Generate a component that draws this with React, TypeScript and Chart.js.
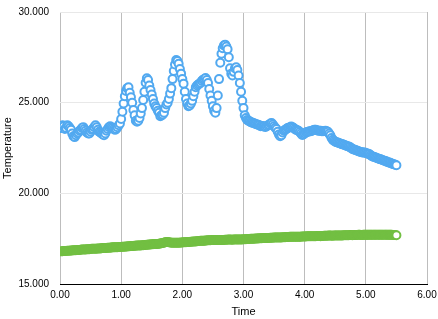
import React, { useEffect, useRef } from "react";
import { Chart, registerables } from "chart.js";

Chart.register(...registerables);

// Readings at 0.02, 0.06, ... 5.50
const times = [
  0.02, 0.06, 0.10, 0.14, 0.18, 0.22, 0.26, 0.30, 0.34, 0.38,
  0.42, 0.46, 0.50, 0.54, 0.58, 0.62, 0.66, 0.70, 0.74, 0.78,
  0.82, 0.86, 0.90, 0.94, 0.98, 1.02, 1.06, 1.10, 1.14, 1.18,
  1.22, 1.26, 1.30, 1.34, 1.38, 1.42, 1.46, 1.50, 1.54, 1.58,
  1.62, 1.66, 1.70, 1.74, 1.78, 1.82, 1.86, 1.90, 1.94, 1.98,
  2.02, 2.06, 2.10, 2.14, 2.18, 2.22, 2.26, 2.30, 2.34, 2.38,
  2.42, 2.46, 2.50, 2.54, 2.58, 2.62, 2.66, 2.70, 2.74, 2.78,
  2.82, 2.86, 2.90, 2.94, 2.98, 3.02, 3.06, 3.10, 3.14, 3.18,
  3.22, 3.26, 3.30, 3.34, 3.38, 3.42, 3.46, 3.50, 3.54, 3.58,
  3.62, 3.66, 3.70, 3.74, 3.78, 3.82, 3.86, 3.90, 3.94, 3.98,
  4.02, 4.06, 4.10, 4.14, 4.18, 4.22, 4.26, 4.30, 4.34, 4.38,
  4.42, 4.46, 4.50, 4.54, 4.58, 4.62, 4.66, 4.70, 4.74, 4.78,
  4.82, 4.86, 4.90, 4.94, 4.98, 5.02, 5.06, 5.10, 5.14, 5.18,
  5.22, 5.26, 5.30, 5.34, 5.38, 5.42, 5.46, 5.50,
];

const blueTemps = [
  23.6, 23.7, 23.6, 23.7, 23.5, 23.15, 23.2, 23.35, 23.5, 23.65,
  23.45, 23.3, 23.4, 23.55, 23.75, 23.5, 23.35, 23.25, 23.3, 23.55,
  23.7, 23.6, 23.5, 23.65, 23.85, 24.5, 25.35, 25.8, 25.55, 25.0,
  24.3, 23.95, 24.15, 24.7, 25.6, 26.35, 25.95, 25.45, 24.95, 24.7,
  24.45, 24.3, 24.45, 24.9, 25.2, 25.8, 26.75, 27.35, 27.15, 26.6,
  26.05, 25.2, 24.8, 24.95, 25.35, 25.85, 26.0, 26.1, 26.27, 26.36,
  26.08, 25.4, 24.8, 24.45, 25.4, 27.2, 28.0, 28.2, 27.95, 26.9,
  26.5, 26.9, 26.8, 26.08, 25.1, 24.3, 24.05, 23.97, 23.9, 23.85,
  23.8, 23.75, 23.72, 23.68, 23.7, 23.78, 23.88, 23.7, 23.55, 23.25,
  23.2, 23.45, 23.55, 23.62, 23.68, 23.6, 23.5, 23.45, 23.3, 23.25,
  23.35, 23.4, 23.42, 23.48, 23.5, 23.45, 23.45, 23.42, 23.45, 23.4,
  23.2, 22.95, 22.85, 22.8, 22.75, 22.7, 22.65, 22.6, 22.55, 22.45,
  22.4, 22.35, 22.3, 22.25, 22.25, 22.2, 22.15, 22.05, 22.0, 21.95,
  21.9, 21.85, 21.8, 21.75, 21.7, 21.65, 21.6, 21.55,
];

const greenTemps = [
  16.80, 16.82, 16.82, 16.84, 16.85, 16.86, 16.86, 16.88, 16.89, 16.90,
  16.90, 16.92, 16.93, 16.94, 16.95, 16.96, 16.96, 16.98, 16.99, 17.00,
  17.00, 17.02, 17.03, 17.03, 17.04, 17.05, 17.06, 17.07, 17.08, 17.10,
  17.11, 17.12, 17.12, 17.14, 17.15, 17.16, 17.18, 17.19, 17.20, 17.21,
  17.22, 17.25, 17.28, 17.31, 17.30, 17.28, 17.27, 17.27, 17.28, 17.29,
  17.30, 17.30, 17.32, 17.33, 17.34, 17.35, 17.37, 17.38, 17.38, 17.40,
  17.41, 17.41, 17.42, 17.42, 17.43, 17.42, 17.43, 17.44, 17.44, 17.45,
  17.44, 17.45, 17.46, 17.45, 17.46, 17.47, 17.48, 17.48, 17.50, 17.50,
  17.51, 17.52, 17.52, 17.53, 17.54, 17.54, 17.55, 17.56, 17.56, 17.57,
  17.57, 17.58, 17.59, 17.59, 17.60, 17.60, 17.61, 17.60, 17.61, 17.62,
  17.62, 17.63, 17.63, 17.64, 17.64, 17.65, 17.64, 17.65, 17.66, 17.66,
  17.67, 17.66, 17.67, 17.68, 17.68, 17.68, 17.69, 17.69, 17.70, 17.69,
  17.70, 17.70, 17.71, 17.70, 17.71, 17.71, 17.71, 17.72, 17.71, 17.72,
  17.72, 17.71, 17.72, 17.72, 17.71, 17.71, 17.70, 17.69,
];

// In-between readings at 0.04, 0.08, ... 5.48
const timesMid = [
  0.04, 0.08, 0.12, 0.16, 0.20, 0.24, 0.28, 0.32, 0.36, 0.40,
  0.44, 0.48, 0.52, 0.56, 0.60, 0.64, 0.68, 0.72, 0.76, 0.80,
  0.84, 0.88, 0.92, 0.96, 1.00, 1.04, 1.08, 1.12, 1.16, 1.20,
  1.24, 1.28, 1.32, 1.36, 1.40, 1.44, 1.48, 1.52, 1.56, 1.60,
  1.64, 1.68, 1.72, 1.76, 1.80, 1.84, 1.88, 1.92, 1.96, 2.00,
  2.04, 2.08, 2.12, 2.16, 2.20, 2.24, 2.28, 2.32, 2.36, 2.40,
  2.44, 2.48, 2.52, 2.56, 2.60, 2.64, 2.68, 2.72, 2.76, 2.80,
  2.84, 2.88, 2.92, 2.96, 3.00, 3.04, 3.08, 3.12, 3.16, 3.20,
  3.24, 3.28, 3.32, 3.36, 3.40, 3.44, 3.48, 3.52, 3.56, 3.60,
  3.64, 3.68, 3.72, 3.76, 3.80, 3.84, 3.88, 3.92, 3.96, 4.00,
  4.04, 4.08, 4.12, 4.16, 4.20, 4.24, 4.28, 4.32, 4.36, 4.40,
  4.44, 4.48, 4.52, 4.56, 4.60, 4.64, 4.68, 4.72, 4.76, 4.80,
  4.84, 4.88, 4.92, 4.96, 5.00, 5.04, 5.08, 5.12, 5.16, 5.20,
  5.24, 5.28, 5.32, 5.36, 5.40, 5.44, 5.48,
];

const blueTempsMid = [
  23.75, 23.55, 23.75, 23.6, 23.3, 23.1, 23.3, 23.45, 23.6, 23.55,
  23.35, 23.3, 23.5, 23.65, 23.65, 23.4, 23.3, 23.2, 23.45, 23.65,
  23.65, 23.55, 23.55, 23.75, 24.1, 24.95, 25.65, 25.85, 25.3, 24.6,
  24.0, 24.0, 24.4, 25.15, 26.1, 26.25, 25.7, 25.2, 24.8, 24.55,
  24.25, 24.35, 24.7, 25.0, 25.5, 26.3, 27.1, 27.3, 26.85, 26.3,
  25.6, 24.95, 24.85, 25.1, 25.6, 25.95, 26.05, 26.2, 26.3, 26.25,
  25.75, 25.1, 24.55, 24.7, 26.3, 27.7, 28.15, 28.1, 27.5, 26.6,
  26.7, 26.95, 26.5, 25.6, 24.7, 24.15, 24.0, 23.92, 23.88, 23.82,
  23.78, 23.7, 23.7, 23.66, 23.75, 23.85, 23.8, 23.62, 23.4, 23.15,
  23.35, 23.5, 23.6, 23.65, 23.65, 23.55, 23.48, 23.38, 23.22, 23.3,
  23.38, 23.42, 23.45, 23.5, 23.48, 23.45, 23.43, 23.44, 23.42, 23.3,
  23.05, 22.9, 22.82, 22.78, 22.72, 22.68, 22.62, 22.58, 22.5, 22.42,
  22.38, 22.32, 22.28, 22.25, 22.22, 22.18, 22.1, 22.02, 21.98, 21.92,
  21.88, 21.82, 21.78, 21.72, 21.68, 21.62, 21.58,
];

const greenTempsMid = [
  16.81, 16.82, 16.83, 16.84, 16.85, 16.86, 16.87, 16.88, 16.90, 16.90,
  16.91, 16.92, 16.94, 16.94, 16.95, 16.96, 16.97, 16.98, 16.99, 17.00,
  17.01, 17.02, 17.03, 17.04, 17.04, 17.05, 17.07, 17.08, 17.09, 17.10,
  17.11, 17.12, 17.13, 17.14, 17.15, 17.17, 17.18, 17.19, 17.20, 17.21,
  17.23, 17.26, 17.30, 17.31, 17.29, 17.27, 17.27, 17.28, 17.28, 17.29,
  17.30, 17.31, 17.32, 17.33, 17.35, 17.36, 17.37, 17.38, 17.39, 17.40,
  17.41, 17.42, 17.42, 17.43, 17.42, 17.43, 17.43, 17.44, 17.45, 17.44,
  17.45, 17.45, 17.46, 17.46, 17.47, 17.47, 17.48, 17.49, 17.50, 17.51,
  17.51, 17.52, 17.53, 17.53, 17.54, 17.55, 17.55, 17.56, 17.57, 17.57,
  17.58, 17.58, 17.59, 17.60, 17.60, 17.61, 17.60, 17.61, 17.62, 17.62,
  17.63, 17.63, 17.64, 17.64, 17.65, 17.65, 17.65, 17.66, 17.66, 17.67,
  17.66, 17.67, 17.68, 17.68, 17.68, 17.69, 17.69, 17.69, 17.70, 17.70,
  17.70, 17.71, 17.70, 17.71, 17.71, 17.71, 17.72, 17.71, 17.72, 17.72,
  17.71, 17.72, 17.72, 17.71, 17.71, 17.70, 17.70,
];

const xTickLabels = ["0.00", "1.00", "2.00", "3.00", "4.00", "5.00", "6.00"];
const yTickLabels = ["15.000", "20.000", "25.000", "30.000"];

const BLUE = "#52a9f0";
const GREEN = "#72bf42";
const FONT = "'Liberation Sans', Arial, Helvetica, sans-serif";

function merge(a: number[], av: number[], b: number[], bv: number[]) {
  const pts = [
    ...a.map((t, i) => ({ x: t, y: av[i] })),
    ...b.map((t, i) => ({ x: t, y: bv[i] })),
  ];
  pts.sort((p, q) => p.x - q.x);
  return pts;
}

export default function App() {
  const ref = useRef<HTMLCanvasElement | null>(null);

  useEffect(() => {
    if (!ref.current) return;
    const blueData = merge(times, blueTemps, timesMid, blueTempsMid);
    const greenData = merge(times, greenTemps, timesMid, greenTempsMid);
    const last = greenData.length - 1;
    const chart = new Chart(ref.current, {
      type: "scatter",
      data: {
        datasets: [
          {
            label: "Series 1",
            data: blueData,
            borderColor: BLUE,
            backgroundColor: "#ffffff",
            pointRadius: 4,
            pointBorderWidth: 2,
            showLine: false,
          },
          {
            label: "Series 2",
            data: greenData,
            borderColor: GREEN,
            pointBackgroundColor: (ctx: any) =>
              ctx.dataIndex === last ? "#ffffff" : GREEN,
            pointRadius: 4,
            pointBorderWidth: 2,
            showLine: false,
          },
        ],
      },
      options: {
        animation: false,
        responsive: true,
        maintainAspectRatio: false,
        layout: { padding: { left: 0, right: 11, top: 12, bottom: 0 } },
        plugins: {
          legend: { display: false },
          tooltip: { enabled: false },
        },
        scales: {
          x: {
            type: "linear",
            min: 0,
            max: 6,
            afterFit: (s: any) => {
              s.height = 35;
              s.paddingLeft = 0;
              s.paddingRight = 0;
            },
            ticks: {
              stepSize: 1,
              padding: 5,
              color: "#000",
              font: { family: FONT, size: 10 },
              callback: (v: any) => xTickLabels[Math.round(Number(v))] ?? "",
              maxRotation: 0,
            },
            grid: { color: "#bdbdbd", drawTicks: false },
            border: { display: true, color: "#000", width: 1 },
            title: {
              display: true,
              text: "Time",
              color: "#000",
              font: { family: FONT, size: 11 },
              padding: { top: 0, bottom: 0 },
            },
          },
          y: {
            type: "linear",
            min: 15,
            max: 30,
            afterFit: (s: any) => {
              s.width = 60;
              s.paddingTop = 0;
              s.paddingBottom = 0;
            },
            ticks: {
              stepSize: 5,
              padding: 11,
              color: "#000",
              font: { family: FONT, size: 10 },
              callback: (v: any) =>
                yTickLabels[Math.round((Number(v) - 15) / 5)] ?? "",
            },
            grid: { color: "#e8e8e8", drawTicks: false },
            border: { display: false },
            title: {
              display: true,
              text: "Temperature",
              color: "#000",
              font: { family: FONT, size: 11 },
              padding: { top: 1.5, bottom: 0 },
            },
          },
        },
      },
    });
    return () => chart.destroy();
  }, []);

  return (
    <div
      style={{
        position: "fixed",
        left: 0,
        top: 0,
        width: 438,
        height: 319,
        background: "#fff",
      }}
    >
      <canvas ref={ref} />
    </div>
  );
}
